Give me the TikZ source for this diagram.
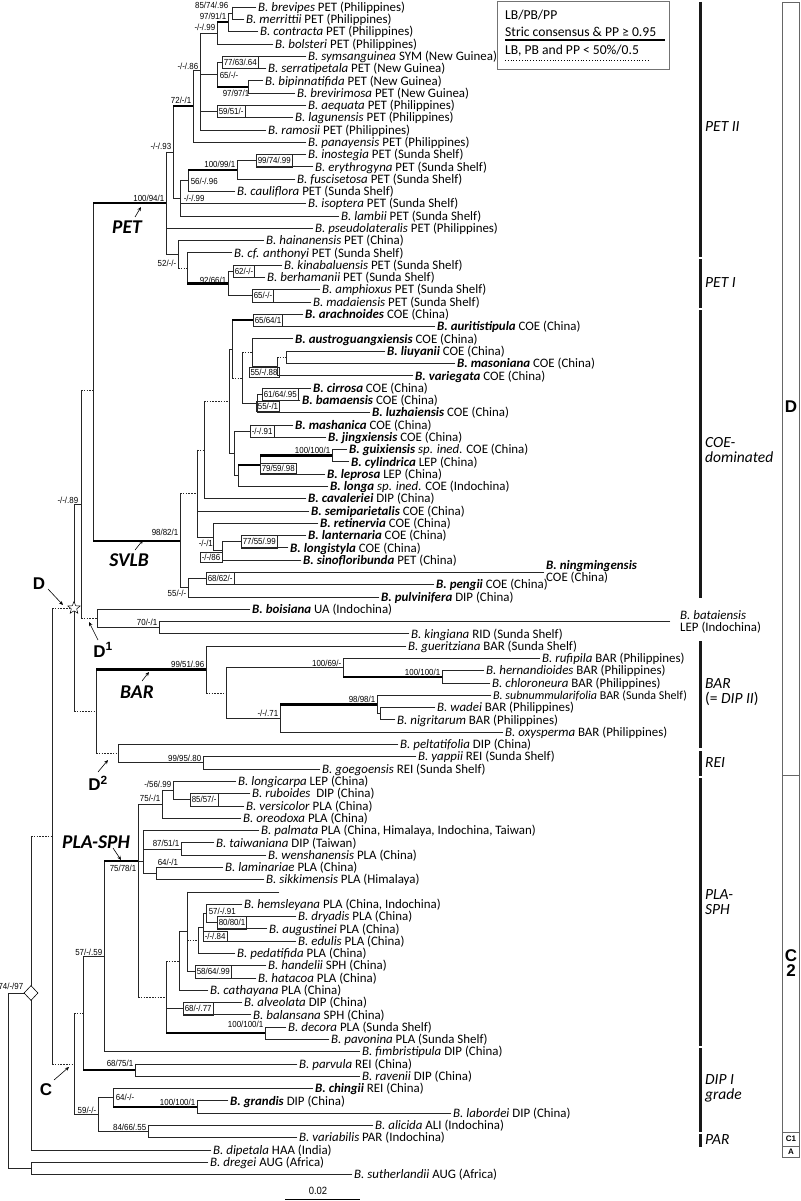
\documentclass[tikz,border=0pt]{standalone}
\usepackage{fontspec}
\setmainfont{Carlito}
\newfontfamily\suppfam[FakeStretch=0.9]{Liberation Sans}
\newfontfamily\arialfam{Liberation Sans}
\usetikzlibrary{shapes.geometric,arrows.meta}
\newcommand\Rw[1]{{7+12.29*(#1-1)}}
\newcommand\tipf{\fontsize{12.9}{12}\selectfont}
\newcommand\legf{\fontsize{13.6}{13}\selectfont}
\newcommand\supf{\suppfam\fontsize{8.8}{8.8}\selectfont}
\newcommand\spn[1]{\textit{#1}}
\newcommand\bspn[1]{\textbf{\textit{#1}}}
\newcommand\Edge[3][]{\draw[br] (#2) -- (#2 |- #3); \draw[br,#1] (#2 |- #3) -- (#3);}
\newcommand\Tip[4]{\node[tip] (#1) at ({#2-2},\Rw{#3}) {#4};}
\tikzset{
  br/.style={line width=0.7pt, draw=black!85, line cap=rect},
  thk/.style={line width=2.2pt, line cap=butt, draw=black},
  dsh/.style={dash pattern=on 1.6pt off 1.2pt, line cap=butt},
  tip/.style={anchor=west, inner xsep=2pt, inner ysep=0pt, text height=8.6pt, text depth=0pt, font=\tipf},
  tiptwo/.style={anchor=west, align=left, inner xsep=2pt, inner ysep=0pt, font=\tipf},
  lab/.style={font=\supf, inner sep=0.6pt},
  blab/.style={font=\supf, draw=black!85, line width=0.5pt, inner xsep=1.5pt, inner ysep=0pt, minimum height=12.29pt, anchor=west},
  cblab/.style={font=\supf, draw=black!85, line width=0.5pt, inner xsep=1.5pt, inner ysep=0pt, minimum height=10pt},
  bigl/.style={font=\fontsize{19.5}{19.5}\selectfont\bfseries\itshape, inner sep=0pt},
  bigd/.style={font=\arialfam\fontsize{17}{17}\selectfont\bfseries, inner sep=0pt},
  arr/.style={-{Stealth[length=4pt,width=3.5pt]}, line width=0.6pt},
  clab/.style={anchor=west, align=left, inner sep=0pt, font=\fontsize{15.5}{15}\selectfont\itshape},
  cbar/.style={line width=3pt, draw=black!90},
  colbox/.style={draw=black!60, line width=0.6pt},
  colL/.style={font=\arialfam\fontsize{17}{17}\selectfont\bfseries, inner sep=0pt},
  colS/.style={font=\arialfam\fontsize{8}{8}\selectfont\bfseries, inner sep=0pt},
}
\begin{document}
\begin{tikzpicture}[x=1pt,y=-1pt]
\useasboundingbox (0,0) rectangle (800,1201);
% ---------------- tips ----------------
\Tip{brevipes}{258}{1}{\spn{B. brevipes} PET (Philippines)}
\Tip{merrittii}{246}{2}{\spn{B. merrittii} PET (Philippines)}
\Tip{contracta}{260}{3}{\spn{B. contracta} PET (Philippines)}
\Tip{bolsteri}{275}{4}{\spn{B. bolsteri} PET (Philippines)}
\Tip{symsanguinea}{308}{5}{\spn{B. symsanguinea} SYM (New Guinea)}
\Tip{serratipetala}{268}{6}{\spn{B. serratipetala} PET (New Guinea)}
\Tip{bipinnatifida}{265}{7}{\spn{B. bipinnatifida} PET (New Guinea)}
\Tip{brevirimosa}{297}{8}{\spn{B. brevirimosa} PET (New Guinea)}
\Tip{aequata}{308}{9}{\spn{B. aequata} PET (Philippines)}
\Tip{lagunensis}{295}{10}{\spn{B. lagunensis} PET (Philippines)}
\Tip{ramosii}{268}{11}{\spn{B. ramosii} PET (Philippines)}
\Tip{panayensis}{308}{12}{\spn{B. panayensis} PET (Philippines)}
\Tip{inostegia}{308}{13}{\spn{B. inostegia} PET (Sunda Shelf)}
\Tip{erythrogyna}{315}{14}{\spn{B. erythrogyna} PET (Sunda Shelf)}
\Tip{fuscisetosa}{297}{15}{\spn{B. fuscisetosa} PET (Sunda Shelf)}
\Tip{cauliflora}{237}{16}{\spn{B. cauliflora} PET (Sunda Shelf)}
\Tip{isoptera}{308}{17}{\spn{B. isoptera} PET (Sunda Shelf)}
\Tip{lambii}{341}{18}{\spn{B. lambii} PET (Sunda Shelf)}
\Tip{pseudolateralis}{315}{19}{\spn{B. pseudolateralis} PET (Philippines)}
\Tip{hainanensis}{266}{20}{\spn{B. hainanensis} PET (China)}
\Tip{anthonyi}{234}{21}{\spn{B. cf. anthonyi} PET (Sunda Shelf)}
\Tip{kinabaluensis}{284}{22}{\spn{B. kinabaluensis} PET (Sunda Shelf)}
\Tip{berhamanii}{267}{23}{\spn{B. berhamanii} PET (Sunda Shelf)}
\Tip{amphioxus}{322}{24}{\spn{B. amphioxus} PET (Sunda Shelf)}
\Tip{madaiensis}{313}{25}{\spn{B. madaiensis} PET (Sunda Shelf)}
\Tip{arachnoides}{305}{26}{\bspn{B. arachnoides} COE (China)}
\Tip{auritistipula}{437}{27}{\bspn{B. auritistipula} COE (China)}
\Tip{austroguangxiensis}{295}{28}{\bspn{B. austroguangxiensis} COE (China)}
\Tip{liuyanii}{387}{29}{\bspn{B. liuyanii} COE (China)}
\Tip{masoniana}{457}{30}{\bspn{B. masoniana} COE (China)}
\Tip{variegata}{415}{31}{\bspn{B. variegata} COE (China)}
\Tip{cirrosa}{313}{32}{\bspn{B. cirrosa} COE (China)}
\Tip{bamaensis}{302}{33}{\bspn{B. bamaensis} COE (China)}
\Tip{luzhaiensis}{372}{34}{\bspn{B. luzhaiensis} COE (China)}
\Tip{mashanica}{295}{35}{\bspn{B. mashanica} COE (China)}
\Tip{jingxiensis}{328}{36}{\bspn{B. jingxiensis} COE (China)}
\Tip{guixiensis}{349}{37}{\bspn{B. guixiensis} \spn{sp. ined.} COE (China)}
\Tip{cylindrica}{351}{38}{\bspn{B. cylindrica} LEP (China)}
\Tip{leprosa}{327}{39}{\bspn{B. leprosa} LEP (China)}
\Tip{longa}{330}{40}{\bspn{B. longa} \spn{sp. ined.} COE (Indochina)}
\Tip{cavaleriei}{308}{41}{\bspn{B. cavaleriei} DIP (China)}
\Tip{semiparietalis}{311}{42}{\bspn{B. semiparietalis} COE (China)}
\Tip{retinervia}{320}{43}{\bspn{B. retinervia} COE (China)}
\Tip{lanternaria}{308}{44}{\bspn{B. lanternaria} COE (China)}
\Tip{longistyla}{290}{45}{\bspn{B. longistyla} COE (China)}
\Tip{sinofloribunda}{303}{46}{\bspn{B. sinofloribunda} PET (China)}
\node[tiptwo] (ningmingensis) at (544,\Rw{47}) {\bspn{B. ningmingensis}\\COE (China)};
\Tip{pengii}{436}{48}{\bspn{B. pengii} COE (China)}
\Tip{pulvinifera}{381}{49}{\bspn{B. pulvinifera} DIP (China)}
\Tip{boisiana}{252}{50}{\bspn{B. boisiana} UA (Indochina)}
\node[tiptwo, inner xsep=10pt] (bataiensis) at (670,\Rw{51}) {\spn{B. bataiensis}\\LEP (Indochina)};
\Tip{kingiana}{411}{52}{\spn{B. kingiana} RID (Sunda Shelf)}
\Tip{gueritziana}{408}{53}{\spn{B. gueritziana} BAR (Sunda Shelf)}
\Tip{rufipila}{542}{54}{\spn{B. rufipila} BAR (Philippines)}
\Tip{hernandioides}{486}{55}{\spn{B. hernandioides} BAR (Philippines)}
\Tip{chloroneura}{492}{56}{\spn{B. chloroneura} BAR (Philippines)}
\Tip{subnummularifolia}{493}{57}{\fontsize{12}{12}\selectfont\spn{B. subnummularifolia} BAR (Sunda Shelf)}
\Tip{wadei}{437}{58}{\spn{B. wadei} BAR (Philippines)}
\Tip{nigritarum}{397}{59}{\spn{B. nigritarum} BAR (Philippines)}
\Tip{oxysperma}{505}{60}{\spn{B. oxysperma} BAR (Philippines)}
\Tip{peltatifolia}{400}{61}{\spn{B. peltatifolia} DIP (China)}
\Tip{yappii}{418}{62}{\spn{B. yappii} REI (Sunda Shelf)}
\Tip{goegoensis}{322}{63}{\spn{B. goegoensis} REI (Sunda Shelf)}
\Tip{longicarpa}{238}{64}{\spn{B. longicarpa} LEP (China)}
\Tip{ruboides}{252}{65}{\spn{B. ruboides}\ \ DIP (China)}
\Tip{versicolor}{246}{66}{\spn{B. versicolor} PLA (China)}
\Tip{oreodoxa}{243}{67}{\spn{B. oreodoxa} PLA (China)}
\Tip{palmata}{261}{68}{\spn{B. palmata} PLA (China, Himalaya, Indochina, Taiwan)}
\Tip{taiwaniana}{216}{69}{\spn{B. taiwaniana} DIP (Taiwan)}
\Tip{wenshanensis}{268}{70}{\spn{B. wenshanensis} PLA (China)}
\Tip{laminariae}{225}{71}{\spn{B. laminariae} PLA (China)}
\Tip{sikkimensis}{266}{72}{\spn{B. sikkimensis} PLA (Himalaya)}
\coordinate (tempty) at (279,\Rw{73});
\Tip{hemsleyana}{244}{74}{\spn{B. hemsleyana} PLA (China, Indochina)}
\Tip{dryadis}{298}{75}{\spn{B. dryadis} PLA (China)}
\Tip{augustinei}{269}{76}{\spn{B. augustinei} PLA (China)}
\Tip{edulis}{298}{77}{\spn{B. edulis} PLA (China)}
\Tip{pedatifida}{237}{78}{\spn{B. pedatifida} PLA (China)}
\Tip{handelii}{268}{79}{\spn{B. handelii} SPH (China)}
\Tip{hatacoa}{258}{80}{\spn{B. hatacoa} PLA (China)}
\Tip{cathayana}{210}{81}{\spn{B. cathayana} PLA (China)}
\Tip{alveolata}{244}{82}{\spn{B. alveolata} DIP (China)}
\Tip{balansana}{253}{83}{\spn{B. balansana} SPH (China)}
\Tip{decora}{288}{84}{\spn{B. decora} PLA (Sunda Shelf)}
\Tip{pavonina}{331}{85}{\spn{B. pavonina} PLA (Sunda Shelf)}
\Tip{fimbristipula}{362}{86}{\spn{B. fimbristipula} DIP (China)}
\Tip{parvula}{299}{87}{\spn{B. parvula} REI (China)}
\Tip{ravenii}{362}{88}{\spn{B. ravenii} DIP (China)}
\Tip{chingii}{315}{89}{\bspn{B. chingii} REI (China)}
\Tip{grandis}{230}{90}{\bspn{B. grandis} DIP (China)}
\Tip{labordei}{453}{91}{\spn{B. labordei} DIP (China)}
\Tip{alicida}{375}{92}{\spn{B. alicida} ALI (Indochina)}
\Tip{variabilis}{299}{93}{\spn{B. variabilis} PAR (Indochina)}
\Tip{dipetala}{213}{94}{\spn{B. dipetala} HAA (India)}
\Tip{dregei}{210}{95}{\spn{B. dregei} AUG (Africa)}
\Tip{sutherlandii}{354}{96}{\spn{B. sutherlandii} AUG (Africa)}
% ---------------- internal nodes ----------------
\coordinate (nbrev) at (232,\Rw{1.5});
\coordinate (nA2) at (228,\Rw{2.25});
\coordinate (nA3) at (217,\Rw{3.125});
\coordinate (nsym) at (222,\Rw{5.5});
\coordinate (nbip) at (248,\Rw{7.5});
\coordinate (nB) at (217,\Rw{6.5});
\coordinate (naeq) at (217,\Rw{9.5});
\coordinate (nA4) at (200,70);
\coordinate (nP1) at (193,106);
\coordinate (nino) at (256,\Rw{13.5});
\coordinate (n100) at (237,\Rw{14.25});
\coordinate (n56) at (188,\Rw{15.125});
\coordinate (nisop) at (180,\Rw{16.56});
\coordinate (n93) at (173,152);
\coordinate (n62) at (233,\Rw{22.5});
\coordinate (n65) at (252,\Rw{24.5});
\coordinate (n92) at (228,\Rw{23.5});
\coordinate (nX) at (187,\Rw{22.25});
\coordinate (n52) at (178,\Rw{21.125});
\coordinate (nPET) at (166,203.3);
\coordinate (n65b) at (253,\Rw{26.5});
\coordinate (nliu) at (286,\Rw{29.5});
\coordinate (n55b) at (277,\Rw{30.25});
\coordinate (naus) at (252,\Rw{29.125});
\coordinate (n61) at (262,\Rw{32.5});
\coordinate (n55c) at (257,\Rw{33.25});
\coordinate (ng) at (242,\Rw{31.19});
\coordinate (nA) at (232,\Rw{28.84});
\coordinate (n91) at (250,\Rw{35.5});
\coordinate (n100b) at (332,\Rw{37.5});
\coordinate (n79) at (260,\Rw{38.25});
\coordinate (nlg) at (238,\Rw{39.125});
\coordinate (nBB) at (234,\Rw{37.31});
\coordinate (nup) at (229,\Rw{33.08});
\coordinate (nCOE) at (204,\Rw{37.04});
\coordinate (n77) at (241,\Rw{44.5});
\coordinate (n86) at (222,\Rw{45.25});
\coordinate (n1) at (213,\Rw{44.125});
\coordinate (n197) at (197,\Rw{40.58});
\coordinate (n68) at (206,\Rw{47.5});
\coordinate (n55) at (188,\Rw{48.25});
\coordinate (nSVLB) at (180,\Rw{44.42});
\coordinate (nPS) at (93,390);
\coordinate (n70) at (159,\Rw{51.5});
\coordinate (nD1) at (97,\Rw{50.75});
\coordinate (n81) at (81,504);
\coordinate (n100e) at (442,\Rw{55.5});
\coordinate (n100d) at (343,\Rw{54.75});
\coordinate (nwn) at (380,\Rw{58.5});
\coordinate (n98) at (377,\Rw{57.75});
\coordinate (n71) at (280,\Rw{58.875});
\coordinate (n226) at (226,\Rw{56.81});
\coordinate (nBAR) at (206,\Rw{54.9});
\coordinate (n99) at (203,\Rw{62.5});
\coordinate (nREI) at (118,\Rw{61.75});
\coordinate (nD2) at (96,\Rw{58.33});
\coordinate (nD) at (74,608);
\coordinate (n85) at (190,\Rw{65.5});
\coordinate (n56b) at (173,\Rw{64.75});
\coordinate (n75) at (162,\Rw{65.875});
\coordinate (n87) at (181,\Rw{69.5});
\coordinate (n64) at (156,\Rw{71.5});
\coordinate (npt) at (143,\Rw{70.5});
\coordinate (n80) at (217,\Rw{75.5});
\coordinate (n57) at (206,\Rw{74.75});
\coordinate (n84) at (203,\Rw{75.875});
\coordinate (nped) at (198,\Rw{76.94});
\coordinate (n58) at (195,\Rw{79.5});
\coordinate (nE) at (187,\Rw{76.25});
\coordinate (n179) at (179,\Rw{78.625});
\coordinate (n68b) at (183,\Rw{82.5});
\coordinate (ndec) at (265,\Rw{84.5});
\coordinate (nlow) at (166,\Rw{81.56});
\coordinate (nPLA) at (138,\Rw{70.5});
\coordinate (n57b) at (104,\Rw{78.25});
\coordinate (n68c) at (135,\Rw{87.5});
\coordinate (n83) at (83,\Rw{82.875});
\coordinate (n100c) at (197,\Rw{90.5});
\coordinate (n64b) at (113,\Rw{89.75});
\coordinate (n84b) at (148,\Rw{92.5});
\coordinate (n59) at (98,\Rw{91.125});
\coordinate (nC) at (74,\Rw{87});
\coordinate (nCD) at (52,836);
\coordinate (nDia) at (31,993);
\coordinate (ndreg) at (31,\Rw{95.5});
\coordinate (nroot) at (8,1081);
% ---------------- edges ----------------
\Edge{nbrev}{brevipes.west} \Edge{nbrev}{merrittii.west}
\Edge{nA2}{nbrev} \Edge{nA2}{contracta.west}
\Edge[thk]{nA3}{nA2} \Edge{nA3}{bolsteri.west}
\Edge{nsym}{symsanguinea.west} \Edge{nsym}{serratipetala.west}
\Edge{nbip}{bipinnatifida.west} \Edge{nbip}{brevirimosa.west}
\Edge{nB}{nsym} \Edge[thk]{nB}{nbip}
\Edge{naeq}{aequata.west} \Edge{naeq}{lagunensis.west}
\Edge{nA4}{nA3} \Edge{nA4}{nB} \Edge{nA4}{naeq} \Edge{nA4}{ramosii.west}
\Edge{nP1}{nA4} \Edge{nP1}{panayensis.west}
\Edge{nino}{inostegia.west} \Edge{nino}{erythrogyna.west}
\Edge{n100}{nino} \Edge{n100}{fuscisetosa.west}
\Edge[thk]{n56}{n100} \Edge{n56}{cauliflora.west}
\Edge{nisop}{n56} \Edge{nisop}{isoptera.west} \Edge{nisop}{lambii.west}
\Edge[thk]{n93}{nP1} \Edge{n93}{nisop}
\Edge{n62}{kinabaluensis.west} \Edge{n62}{berhamanii.west}
\Edge{n65}{amphioxus.west} \Edge{n65}{madaiensis.west}
\Edge{n92}{n62} \Edge{n92}{n65}
\Edge{nX}{anthonyi.west} \Edge[thk]{nX}{n92}
\Edge{n52}{hainanensis.west} \Edge[dsh]{n52}{nX}
\Edge{nPET}{n93} \Edge{nPET}{pseudolateralis.west} \Edge{nPET}{n52}
\Edge{n65b}{arachnoides.west} \Edge{n65b}{auritistipula.west}
\Edge{nliu}{liuyanii.west} \Edge{nliu}{masoniana.west}
\Edge[dsh]{n55b}{nliu} \Edge{n55b}{variegata.west}
\Edge{naus}{austroguangxiensis.west} \Edge{naus}{n55b}
\Edge{n61}{cirrosa.west} \Edge{n61}{bamaensis.west}
\Edge{n55c}{n61} \Edge{n55c}{luzhaiensis.west}
\Edge[dsh]{ng}{naus} \Edge{ng}{n55c}
\Edge[thk]{nA}{n65b} \Edge[dsh]{nA}{ng}
\Edge{n91}{mashanica.west} \Edge{n91}{jingxiensis.west}
\Edge{n100b}{guixiensis.west} \Edge{n100b}{cylindrica.west}
\Edge[thk]{n79}{n100b} \Edge{n79}{leprosa.west}
\Edge[thk]{nlg}{n79} \Edge{nlg}{longa.west}
\Edge{nBB}{n91} \Edge{nBB}{nlg}
\Edge{nup}{nA} \Edge{nup}{nBB}
\Edge[dsh]{nCOE}{nup} \Edge{nCOE}{cavaleriei.west}
\Edge{n77}{lanternaria.west} \Edge{n77}{longistyla.west}
\Edge{n86}{n77} \Edge{n86}{sinofloribunda.west}
\Edge{n1}{retinervia.west} \Edge{n1}{n86}
\Edge[dsh]{n197}{nCOE} \Edge{n197}{semiparietalis.west} \Edge{n197}{n1}
\Edge{n68}{ningmingensis.west} \Edge{n68}{pengii.west}
\Edge{n55}{n68} \Edge{n55}{pulvinifera.west}
\Edge[dsh]{nSVLB}{n197} \Edge{nSVLB}{n55}
\Edge[thk]{nPS}{nPET} \Edge[thk]{nPS}{nSVLB}
\Edge{n70}{bataiensis.west} \Edge{n70}{kingiana.west}
\Edge{nD1}{boisiana.west} \Edge{nD1}{n70}
\Edge[dsh]{n81}{nPS} \Edge[dsh]{n81}{nD1}
\Edge{n100e}{hernandioides.west} \Edge{n100e}{chloroneura.west}
\Edge{n100d}{rufipila.west} \Edge[thk]{n100d}{n100e}
\Edge{nwn}{wadei.west} \Edge{nwn}{nigritarum.west}
\Edge{n98}{subnummularifolia.west} \Edge{n98}{nwn}
\Edge[thk]{n71}{n98} \Edge{n71}{oxysperma.west}
\Edge{n226}{n100d} \Edge{n226}{n71}
\Edge{nBAR}{gueritziana.west} \Edge[dsh]{nBAR}{n226}
\Edge{n99}{yappii.west} \Edge{n99}{goegoensis.west}
\Edge{nREI}{peltatifolia.west} \Edge{nREI}{n99}
\Edge[thk]{nD2}{nBAR} \Edge[dsh]{nD2}{nREI}
\Edge{nD}{n81} \Edge[dsh]{nD}{nD2}
\Edge{n85}{ruboides.west} \Edge{n85}{versicolor.west}
\Edge{n56b}{longicarpa.west} \Edge{n56b}{n85}
\Edge{n75}{n56b} \Edge{n75}{oreodoxa.west}
\Edge{n87}{taiwaniana.west} \Edge{n87}{wenshanensis.west}
\Edge{n64}{laminariae.west} \Edge{n64}{sikkimensis.west}
\Edge{npt}{palmata.west} \Edge{npt}{n87} \Edge{npt}{n64}
\Edge{n80}{dryadis.west} \Edge{n80}{augustinei.west}
\Edge{n57}{hemsleyana.west} \Edge{n57}{n80}
\Edge{n84}{n57} \Edge{n84}{edulis.west}
\Edge{nped}{n84} \Edge{nped}{pedatifida.west}
\Edge{n58}{handelii.west} \Edge{n58}{hatacoa.west}
\Edge{nE}{tempty} \Edge[dsh]{nE}{nped} \Edge{nE}{n58}
\Edge{n179}{nE} \Edge{n179}{cathayana.west}
\Edge{n68b}{alveolata.west} \Edge{n68b}{balansana.west}
\Edge{ndec}{decora.west} \Edge{ndec}{pavonina.west}
\Edge[dsh]{nlow}{n179} \Edge{nlow}{n68b} \Edge[thk]{nlow}{ndec}
\Edge{nPLA}{n75} \Edge{nPLA}{npt} \Edge[dsh]{nPLA}{nlow}
\Edge[thk]{n57b}{nPLA} \Edge{n57b}{fimbristipula.west}
\Edge{n68c}{parvula.west} \Edge{n68c}{ravenii.west}
\Edge{n83}{n57b} \Edge[thk]{n83}{n68c}
\Edge{n100c}{grandis.west} \Edge{n100c}{labordei.west}
\Edge{n64b}{chingii.west} \Edge[thk]{n64b}{n100c}
\Edge{n84b}{alicida.west} \Edge{n84b}{variabilis.west}
\Edge{n59}{n64b} \Edge{n59}{n84b}
\Edge[dsh]{nC}{n83} \Edge{nC}{n59}
\Edge[dsh]{nCD}{nD} \Edge[dsh]{nCD}{nC}
\Edge[dsh]{nDia}{nCD} \Edge{nDia}{dipetala.west}
\Edge{ndreg}{dregei.west} \Edge{ndreg}{sutherlandii.west}
\Edge{nroot}{nDia} \Edge{nroot}{ndreg}
% markers
\node[star, star points=5, star point ratio=2.3, draw, fill=white, minimum size=13pt, inner sep=0pt, line width=0.5pt] (starD) at (nD) {};
\node[diamond, draw, fill=white, minimum width=14pt, minimum height=15pt, inner sep=0pt, line width=0.6pt] (diaR) at (nDia) {};
% ---------------- support labels ----------------
\node[lab, anchor=east] (s01) at (229,5) {85/74/.96};
\node[lab, anchor=east] (s02) at (227,16) {97/91/1};
\node[lab, anchor=east] (s03) at (216,27) {-/-/.99};
\node[lab, anchor=east] (s04) at (199,66) {-/-/.86};
\node[blab] (s05) at (nsym) {77/63/.64};
\node[lab, anchor=west] (s06) at (219,75) {65/-/-};
\node[lab, anchor=west] (s07) at (222,93) {97/97/1};
\node[blab] (s08) at (naeq) {59/51/-};
\node[lab, anchor=east] (s09) at (192,100) {72/-/1};
\node[lab, anchor=east] (s10) at (172,146) {-/-/.93};
\node[lab, anchor=east] (s11) at (236,164) {100/99/1};
\node[blab] (s12) at (nino) {99/74/.99};
\node[lab, anchor=west] (s13) at (190,181) {56/-/.96};
\node[lab, anchor=west] (s14) at (183,198) {-/-/.99};
\node[lab, anchor=east] (s15) at (165,198) {100/94/1};
\node[lab, anchor=east] (s16) at (177,263) {52/-/-};
\node[lab, anchor=east] (s17) at (227,280) {92/66/1};
\node[blab] (s18) at (n62) {62/-/-};
\node[blab] (s19) at (n65) {65/-/-};
\node[blab] (s20) at (n65b) {65/64/1};
\node[cblab] (s21) at (264,372) {55/-/.88};
\node[blab] (s22) at (n61) {61/64/.95};
\node[cblab] (s23) at (268,406) {55/-/1};
\node[blab] (s24) at (n91) {-/-/.91};
\node[lab, anchor=east] (s25) at (331,450) {100/100/1};
\node[cblab, anchor=west] (s26) at (260,468) {79/59/.98};
\node[lab, anchor=west] (s27) at (198,543) {-/-/1};
\node[blab] (s28) at (n77) {77/55/.99};
\node[cblab, anchor=east] (s29) at (222,557) {-/-/86};
\node[blab] (s30) at (n68) {68/62/-};
\node[lab, anchor=east] (s31) at (179,532) {98/82/1};
\node[lab, anchor=east] (s32) at (187,593) {55/-/-};
\node[lab, anchor=east] (s33) at (79,500) {-/-/.89};
\node[lab, anchor=east] (s34) at (158,622) {70/-/1};
\node[lab, anchor=east] (s35) at (205,664) {99/51/.96};
\node[lab, anchor=east] (s36) at (342,663) {100/69/-};
\node[lab, anchor=east] (s37) at (441,672) {100/100/1};
\node[lab, anchor=east] (s38) at (376,699) {98/98/1};
\node[lab, anchor=east] (s39) at (279,713) {-/-/.71};
\node[lab, anchor=east] (s40) at (202,758) {99/95/.80};
\node[lab, anchor=east] (s41) at (172,784) {-/56/.99};
\node[lab, anchor=east] (s42) at (161,798) {75/-/1};
\node[blab] (s43) at (n85) {85/57/-};
\node[lab, anchor=east] (s44) at (180,843) {87/51/1};
\node[lab, anchor=west] (s45) at (157,862) {64/-/1};
\node[lab, anchor=east] (s46) at (137,868) {75/78/1};
\node[lab, anchor=west] (s47) at (208,911) {57/-/.91};
\node[blab] (s48) at (n80) {80/80/1};
\node[cblab, anchor=west] (s49) at (203,936) {-/-/.84};
\node[lab, anchor=east] (s50) at (103,952) {57/-/.59};
\node[blab] (s51) at (n58) {58/64/.99};
\node[blab] (s52) at (n68b) {68/-/.77};
\node[lab, anchor=east] (s53) at (264,1024) {100/100/1};
\node[lab, anchor=east] (s54) at (134,1063) {68/75/1};
\node[lab, anchor=west] (s55) at (115,1097) {64/-/-};
\node[lab, anchor=east] (s56) at (196,1102) {100/100/1};
\node[lab, anchor=east] (s57) at (97,1110) {59/-/-};
\node[lab, anchor=east] (s58) at (147,1127) {84/66/.55};
\node[lab, anchor=east] (s59) at (24,986) {74/-/97};
% ---------------- clade names & arrows ----------------
\node[bigl] (lPET) at (127,227) {PET};
\node[bigl] (lSVLB) at (129,560) {SVLB};
\node[bigl] (lBAR) at (137,692) {BAR};
\node[bigl] (lPLA) at (96,842) {PLA-SPH};
\node[bigd] (lD) at (39,584) {D};
\node[bigd] (lD1) at (103,650) {D\textsuperscript{1}};
\node[bigd] (lD2) at (98,783) {D\textsuperscript{2}};
\node[bigd] (lC) at (46,1090) {C};
\coordinate (aPETs) at (135,217); \coordinate (aPETe) at (141,207);
\coordinate (aSVs) at (135,550); \coordinate (aSVe) at (143,540);
\coordinate (aBARs) at (142,681); \coordinate (aBARe) at (149,672);
\coordinate (aPLAs) at (113,848); \coordinate (aPLAe) at (121,860);
\coordinate (aDs) at (48,589); \coordinate (aDe) at (63,605);
\coordinate (aD1s) at (98,640); \coordinate (aD1e) at (89,622);
\coordinate (aD2s) at (98,772); \coordinate (aD2e) at (108,760);
\coordinate (aCs) at (54,1080); \coordinate (aCe) at (69,1067);
\draw[arr] (aPETs) -- (aPETe);
\draw[arr] (aSVs) -- (aSVe);
\draw[arr] (aBARs) -- (aBARe);
\draw[arr] (aPLAs) -- (aPLAe);
\draw[arr] (aDs) -- (aDe);
\draw[arr] (aD1s) -- (aD1e);
\draw[arr] (aD2s) -- (aD2e);
\draw[arr] (aCs) -- (aCe);
% ---------------- legend ----------------
\draw[draw=black!55, line width=0.6pt] (497,1) rectangle (669,69);
\node[anchor=west, inner sep=0pt, font=\legf] (lg1) at (505,15) {LB/PB/PP};
\node[anchor=west, inner sep=0pt, font=\legf] (lg2) at (505,32) {Stric consensus \& PP ≥ 0.95};
\draw[line width=2pt] (505,40) -- (665,40);
\node[anchor=west, inner sep=0pt, font=\legf] (lg3) at (505,51) {LB, PB and PP < 50\%/0.5};
\draw[line width=0.8pt, dotted] (505,60) -- (648,60);
% ---------------- right bars ----------------
\draw[cbar] (700.5,2) -- (700.5,257);
\draw[cbar] (700.5,259) -- (700.5,308);
\draw[cbar] (700.5,310) -- (700.5,598);
\draw[cbar] (700.5,641) -- (700.5,748);
\draw[cbar] (700.5,751) -- (700.5,776);
\draw[cbar] (700.5,778) -- (700.5,1046);
\draw[cbar] (700.5,1048) -- (700.5,1132);
\draw[cbar, line width=3.6pt] (700.5,1134) -- (700.5,1147);
\node[clab] (cPET2) at (705,127) {PET II};
\node[clab] (cPET1) at (705,283) {PET I};
\node[clab] (cCOE) at (705,450) {COE-\\dominated};
\node[clab] (cBAR) at (705,692) {BAR\\{\upshape(=} DIP II{\upshape)}};
\node[clab] (cREI) at (705,763) {REI};
\node[clab] (cPLA) at (705,902) {PLA-\\SPH};
\node[clab] (cDIP) at (705,1088) {DIP I\\grade};
\node[clab] (cPAR) at (705,1140) {PAR};
% ---------------- right column ----------------
\draw[colbox] (782,2) rectangle (799.5,775);
\draw[colbox] (782,775) rectangle (799.5,1132);
\draw[colbox] (782,1132) rectangle (799.5,1146);
\draw[colbox] (782,1146) rectangle (799.5,1157);
\node[colL] (kD) at (791,407) {D};
\node[colL, align=center] (kC2) at (791,963) {C\\[-2pt]2};
\node[colS] (kC1) at (791,1139) {C1};
\node[colS] (kA) at (791,1151.5) {A};
% ---------------- scale bar ----------------
\coordinate (sb1) at (285,1199); \coordinate (sb2) at (360,1199);
\draw[line width=0.7pt] (sb1) -- (sb2);
\node[font=\suppfam\fontsize{10.5}{10.5}\selectfont, inner sep=0pt] (sbl) at (318,1191) {0.02};
\end{tikzpicture}
\end{document}
